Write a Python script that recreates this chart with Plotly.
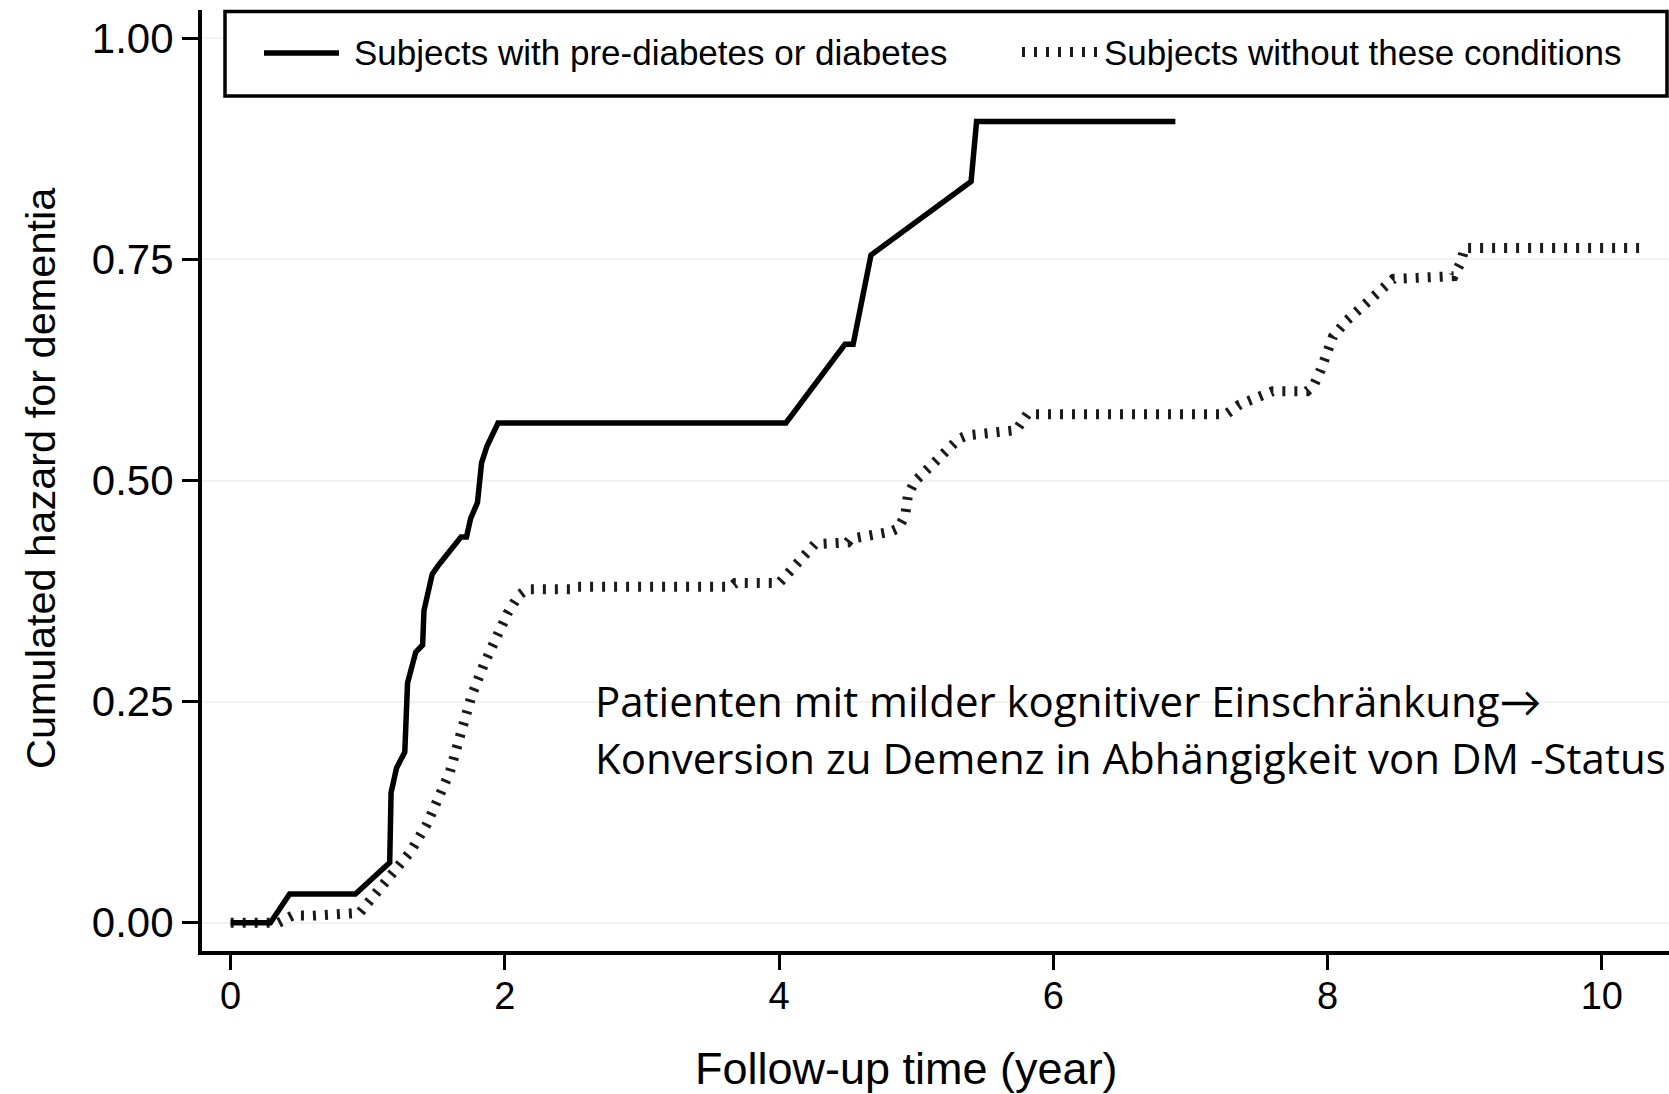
import plotly.graph_objects as go

# ---------------- data ----------------
solid_x = [0, 0.29, 0.43, 0.91, 1.16, 1.17, 1.21, 1.27, 1.29, 1.35, 1.40, 1.41, 1.47, 1.52,
           1.68, 1.72, 1.75, 1.80, 1.83, 1.87, 1.95, 4.05, 4.48, 4.54, 4.67, 5.40, 5.44, 6.89]
solid_y = [0, 0, 0.0325, 0.0325, 0.068, 0.147, 0.175, 0.193, 0.271, 0.306, 0.314, 0.353, 0.394, 0.405,
           0.436, 0.436, 0.457, 0.475, 0.520, 0.539, 0.565, 0.565, 0.654, 0.654, 0.755, 0.838, 0.906, 0.906]

dotted_x = [0, 0.35, 0.45, 0.60, 0.94, 1.01, 1.11, 1.21, 1.31, 1.43, 1.52, 1.60, 1.68, 1.76, 1.85,
            1.93, 2.02, 2.10, 2.16, 2.49, 2.52, 3.65, 3.68, 4.00, 4.05, 4.16, 4.26, 4.50, 4.52, 4.81,
            4.87, 4.92, 4.94, 4.99, 5.12, 5.23, 5.31, 5.37, 5.73, 5.81, 7.26, 7.36, 7.48, 7.60, 7.85,
            7.90, 7.95, 7.99, 8.04, 8.14, 8.26, 8.38, 8.48, 8.92, 8.97, 9.00, 10.28]
dotted_y = [0, 0, 0.008, 0.008, 0.011, 0.024, 0.041, 0.059, 0.080, 0.111, 0.141, 0.171, 0.215, 0.258, 0.293,
            0.323, 0.350, 0.370, 0.377, 0.377, 0.380, 0.380, 0.384, 0.384, 0.392, 0.411, 0.428, 0.430, 0.434, 0.442,
            0.446, 0.461, 0.484, 0.499, 0.518, 0.534, 0.547, 0.551, 0.557, 0.575, 0.575, 0.586, 0.595, 0.601, 0.601,
            0.608, 0.625, 0.645, 0.663, 0.681, 0.698, 0.713, 0.728, 0.731, 0.746, 0.763, 0.763]

x_ticks = [0, 2, 4, 6, 8, 10]
y_ticks = [0.0, 0.25, 0.5, 0.75, 1.0]
y_tick_labels = ["0.00", "0.25", "0.50", "0.75", "1.00"]
series_names = ["Subjects with pre-diabetes or diabetes", "Subjects without these conditions"]
x_title = "Follow-up time (year)"
y_title = "Cumulated hazard for dementia"
note_lines = ["Patienten mit milder kognitiver Einschränkung→",
              "Konversion zu Demenz in Abhängigkeit von DM -Status"]

# ---------------- layout geometry ----------------
W, H = 1669, 1094
L, R, T, B = 202, 0, 10, 143
PW, PH = W - L - R, H - T - B


def px(x):
    return (x - L) / PW


def py(y):
    return (H - B - y) / PH


FONT = "Liberation Sans, Arial, Helvetica, sans-serif"
NOTE_FONT = "Open Sans, Lato, sans-serif"
DOT_DASH = "3px,9px"

fig = go.Figure()
fig.add_trace(go.Scatter(x=dotted_x, y=dotted_y, mode="lines", name=series_names[1],
                         line=dict(color="#1a1a1a", width=10, dash=DOT_DASH),
                         showlegend=False, hoverinfo="x+y"))
fig.add_trace(go.Scatter(x=solid_x, y=solid_y, mode="lines", name=series_names[0],
                         line=dict(color="black", width=5.5),
                         showlegend=False, hoverinfo="x+y"))

shapes = [
    dict(type="rect", xref="paper", yref="paper", x0=px(225), x1=px(1667), y0=py(96), y1=py(11.5),
         line=dict(color="black", width=3.5), fillcolor="white", layer="above"),
    dict(type="line", xref="paper", yref="paper", x0=px(264), x1=px(339), y0=py(53), y1=py(53),
         line=dict(color="black", width=5.5), layer="above"),
    dict(type="line", xref="paper", yref="paper", x0=px(1022), x1=px(1097), y0=py(52), y1=py(52),
         line=dict(color="#1a1a1a", width=10, dash=DOT_DASH), layer="above"),
]

annotations = [
    dict(text=series_names[0], xref="paper", yref="paper", x=px(352), y=py(52),
         xanchor="left", yanchor="middle", showarrow=False, font=dict(family=FONT, size=35, color="black")),
    dict(text=series_names[1], xref="paper", yref="paper", x=px(1102), y=py(52),
         xanchor="left", yanchor="middle", showarrow=False, font=dict(family=FONT, size=35, color="black")),
    dict(text=y_title, xref="paper", yref="paper", x=px(40), y=py(478), textangle=-90,
         xanchor="center", yanchor="middle", showarrow=False, font=dict(family=FONT, size=41.5, color="black")),
    dict(text=x_title, xref="paper", yref="paper", x=px(906), y=py(1068),
         xanchor="center", yanchor="middle", showarrow=False, font=dict(family=FONT, size=45, color="black")),
    dict(text=note_lines[0], xref="paper", yref="paper", x=px(593), y=py(700),
         xanchor="left", yanchor="middle", showarrow=False, font=dict(family=NOTE_FONT, size=42, color="black")),
    dict(text=note_lines[1], xref="paper", yref="paper", x=px(593), y=py(757),
         xanchor="left", yanchor="middle", showarrow=False, font=dict(family=NOTE_FONT, size=42, color="black")),
]

fig.update_layout(
    width=W, height=H,
    margin=dict(l=L, r=R, t=T, b=B, pad=0),
    paper_bgcolor="white", plot_bgcolor="white",
    showlegend=False,
    shapes=shapes,
    annotations=annotations,
    font=dict(family=FONT, color="black"),
)
fig.update_xaxes(range=[-0.209, 10.49], tickvals=x_ticks, ticks="outside", ticklen=15, tickwidth=3,
                 tickcolor="black", showline=True, linewidth=4, linecolor="black",
                 showgrid=False, zeroline=False, tickfont=dict(family=FONT, size=38, color="black"),
                 ticklabelstandoff=-7)
fig.update_yaxes(range=[-0.032, 1.032], tickvals=y_ticks, ticktext=y_tick_labels, ticks="outside",
                 ticklen=16, tickwidth=3, tickcolor="black", showline=True, linewidth=4, linecolor="black",
                 showgrid=True, gridcolor="#f2f2f2", gridwidth=1.5, zeroline=False,
                 tickfont=dict(family=FONT, size=42, color="black"), ticklabelstandoff=0)

fig.write_html("out.html", config={"displayModeBar": False},
               post_script="document.body.style.margin='0';")
